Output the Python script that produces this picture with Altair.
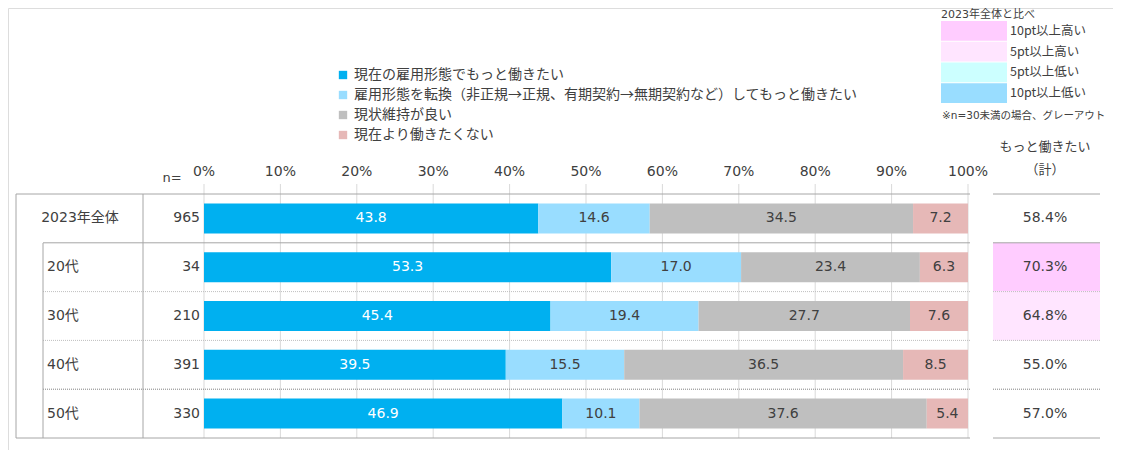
import altair as alt
import pandas as pd

# ---------------- data ----------------
rows = ["2023年全体", "20代", "30代", "40代", "50代"]
n_values = [965, 34, 210, 391, 330]
series_names = [
    "現在の雇用形態でもっと働きたい",
    "雇用形態を転換（非正規→正規、有期契約→無期契約など）してもっと働きたい",
    "現状維持が良い",
    "現在より働きたくない",
]
s_now = [43.8, 53.3, 45.4, 39.5, 46.9]
s_switch = [14.6, 17.0, 19.4, 15.5, 10.1]
s_keep = [34.5, 23.4, 27.7, 36.5, 37.6]
s_less = [7.2, 6.3, 7.6, 8.5, 5.4]
total_more = [58.4, 70.3, 64.8, 55.0, 57.0]
ticks = [0, 10, 20, 30, 40, 50, 60, 70, 80, 90, 100]
tick_labels = [f"{t}%" for t in ticks]
cmp_cats = ["10pt以上高い", "5pt以上高い", "5pt以上低い", "10pt以上低い"]
cmp_title = "2023年全体と比べ"
cmp_note = "※n=30未満の場合、グレーアウト"
header_lines = ["もっと働きたい", "（計）"]

series_colors = ["#00B0F0", "#99DDFF", "#BFBFBF", "#E6B8B7"]
cmp_colors = ["#FFCCFF", "#FFE5FF", "#CCFFFF", "#99DDFF"]

FONT = "DejaVu Sans, Noto Sans CJK JP"
JFONT = "Noto Sans CJK JP"
TXT = "#404040"

# ---------------- tables ----------------
recs = []
for i, r in enumerate(rows):
    vals = [s_now[i], s_switch[i], s_keep[i], s_less[i]]
    tot = sum(vals)
    cum = 0.0
    for j, v in enumerate(vals):
        start = cum / tot * 100
        cum += v
        end = cum / tot * 100
        recs.append(dict(row=r, series=series_names[j], idx=j, value=v,
                         start=start, end=end, mid=(start + end) / 2,
                         label=f"{v:.1f}"))
bars_df = pd.DataFrame(recs)

base_total = total_more[0]
def cmp_cat(v):
    d = v - base_total
    if d >= 10:
        return cmp_cats[0]
    if d >= 5:
        return cmp_cats[1]
    if d <= -10:
        return cmp_cats[3]
    if d <= -5:
        return cmp_cats[2]
    return None

row_df = pd.DataFrame(dict(row=rows, n=n_values,
                           total=[f"{t:.1f}%" for t in total_more],
                           cmp=[cmp_cat(t) if i > 0 else None for i, t in enumerate(total_more)]))
hl_df = row_df.dropna(subset=["cmp"])
tick_df = pd.DataFrame(dict(tick=ticks, label=tick_labels))
cmp_df = pd.DataFrame(dict(cat=cmp_cats))
one = pd.DataFrame(dict(a=[0]))

# ---------------- scales ----------------
xscale = alt.Scale(domain=[0, 100], range=[196, 960], nice=False, zero=False)
row_scale = alt.Scale(domain=rows, range=[186, 430], paddingInner=0, paddingOuter=0)
def yrow(**kw):
    return alt.Y("row:N", scale=row_scale, axis=None, **kw)
cmp_scale_y = alt.Scale(domain=cmp_cats, range=[13, 95], paddingInner=0.05, paddingOuter=0)
fill_scale = alt.Scale(domain=cmp_cats, range=cmp_colors)

# ---------------- layers ----------------
grid = alt.Chart(tick_df).mark_rule(color="#D9D9D9", strokeWidth=1).encode(
    x=alt.X("tick:Q", scale=xscale, axis=None),
    y=alt.value(176), y2=alt.value(430))

tick_text = alt.Chart(tick_df).mark_text(font=FONT, fontSize=14, color=TXT, baseline="middle").encode(
    x=alt.X("tick:Q", scale=xscale, axis=None), y=alt.value(164), text="label:N")

n_eq = alt.Chart(one).mark_text(font=FONT, fontSize=13, color=TXT, align="center", baseline="middle").encode(
    x=alt.value(164), y=alt.value(170), text=alt.value("n="))

highlight = alt.Chart(hl_df).mark_rect().encode(
    x=alt.value(985), x2=alt.value(1092), y=yrow(),
    fill=alt.Fill("cmp:N", scale=fill_scale, legend=None))

def hline(sel_rows, x1, x2, color, dash=None, band=0.0, width=1):
    props = dict(color=color, strokeWidth=width)
    if dash:
        props["strokeDash"] = dash
    d = row_df[row_df["row"].isin(sel_rows)]
    return alt.Chart(d).mark_rule(**props).encode(
        y=yrow(bandPosition=band), x=alt.value(x1), x2=alt.value(x2))

lines = []
for (xa, xb) in [(8, 962), (985, 1092)]:
    right = xa == 985
    lines.append(hline([rows[0]], xa if right else 8, xb, "#A6A6A6"))
    lines.append(hline([rows[1]], xa if right else 35, xb, "#A6A6A6"))
    lines.append(hline(rows[2:4], xa if right else 35, xb, "#BFBFBF", dash=[1, 1]))
    lines.append(hline([rows[4]], xa if right else 35, xb, "#808080", dash=[1, 1]))
    lines.append(hline([rows[4]], xa if right else 8, xb, "#A6A6A6", band=1.0))

def vline(x, y1, y2):
    return alt.Chart(one).mark_rule(color="#A6A6A6", strokeWidth=1).encode(
        x=alt.value(x), y=alt.value(y1), y2=alt.value(y2))
vlines = [vline(8, 186, 430), vline(35, 235, 430), vline(135, 186, 430)]

bars = alt.Chart(bars_df).mark_bar(size=30).encode(
    x=alt.X("start:Q", scale=xscale, axis=None), x2="end:Q", y=yrow(),
    color=alt.Color("series:N", scale=alt.Scale(domain=series_names, range=series_colors),
                    legend=alt.Legend(orient="none", legendX=328, legendY=60, title=None,
                                      symbolType="square", symbolSize=70, symbolStrokeWidth=0,
                                      labelFont=JFONT, labelFontSize=14, labelColor=TXT,
                                      labelLimit=0, labelOffset=4, rowPadding=6)))

bar_text = alt.Chart(bars_df).mark_text(font=FONT, fontSize=14, baseline="middle").encode(
    x=alt.X("mid:Q", scale=xscale, axis=None), y=yrow(), text="label:N",
    color=alt.condition(alt.datum.idx == 0, alt.value("#FFFFFF"), alt.value(TXT)))

label_all = alt.Chart(row_df[row_df["row"] == rows[0]]).mark_text(
    font=FONT, fontSize=14, color=TXT, align="center", baseline="middle").encode(
    x=alt.value(72), y=yrow(), text="row:N")
label_age = alt.Chart(row_df[row_df["row"] != rows[0]]).mark_text(
    font=FONT, fontSize=14, color=TXT, align="left", baseline="middle").encode(
    x=alt.value(39), y=yrow(), text="row:N")
n_text = alt.Chart(row_df).mark_text(font=FONT, fontSize=14, color=TXT, align="right", baseline="middle").encode(
    x=alt.value(192), y=yrow(), text="n:Q")
tot_text = alt.Chart(row_df).mark_text(font=FONT, fontSize=14, color=TXT, align="center", baseline="middle").encode(
    x=alt.value(1037), y=yrow(), text="total:N")

head1 = alt.Chart(one).mark_text(font=JFONT, fontSize=13, color=TXT, baseline="middle").encode(
    x=alt.value(1037), y=alt.value(139), text=alt.value(header_lines[0]))
head2 = alt.Chart(one).mark_text(font=JFONT, fontSize=13, color=TXT, baseline="middle").encode(
    x=alt.value(1037), y=alt.value(162), text=alt.value(header_lines[1]))

cmp_rect = alt.Chart(cmp_df).mark_rect().encode(
    x=alt.value(933), x2=alt.value(999),
    y=alt.Y("cat:N", scale=cmp_scale_y, axis=None),
    fill=alt.Fill("cat:N", scale=fill_scale, legend=None))
cmp_lab = alt.Chart(cmp_df).mark_text(font=JFONT, fontSize=12.5, color=TXT, align="left", baseline="middle").encode(
    x=alt.value(1002), y=alt.Y("cat:N", scale=cmp_scale_y, axis=None), text="cat:N")
cmp_t = alt.Chart(one).mark_text(font=FONT, fontSize=11, color=TXT, align="left", baseline="middle").encode(
    x=alt.value(933), y=alt.value(7), text=alt.value(cmp_title))
cmp_n = alt.Chart(one).mark_text(font=FONT, fontSize=10.5, color=TXT, align="left", baseline="middle").encode(
    x=alt.value(934), y=alt.value(108), text=alt.value(cmp_note))

chart = alt.layer(
    grid, highlight, *lines, *vlines, bars, bar_text, tick_text, n_eq,
    label_all, label_age, n_text, tot_text, head1, head2,
    cmp_rect, cmp_lab, cmp_t, cmp_n,
).resolve_scale(y="independent").properties(
    width=1105, height=442, padding=0,
    autosize=alt.AutoSizeParams(type="none"),
).configure_view(stroke=None).configure(background="white")

chart.save("out.html", embed_options={"renderer": "svg", "actions": False})
